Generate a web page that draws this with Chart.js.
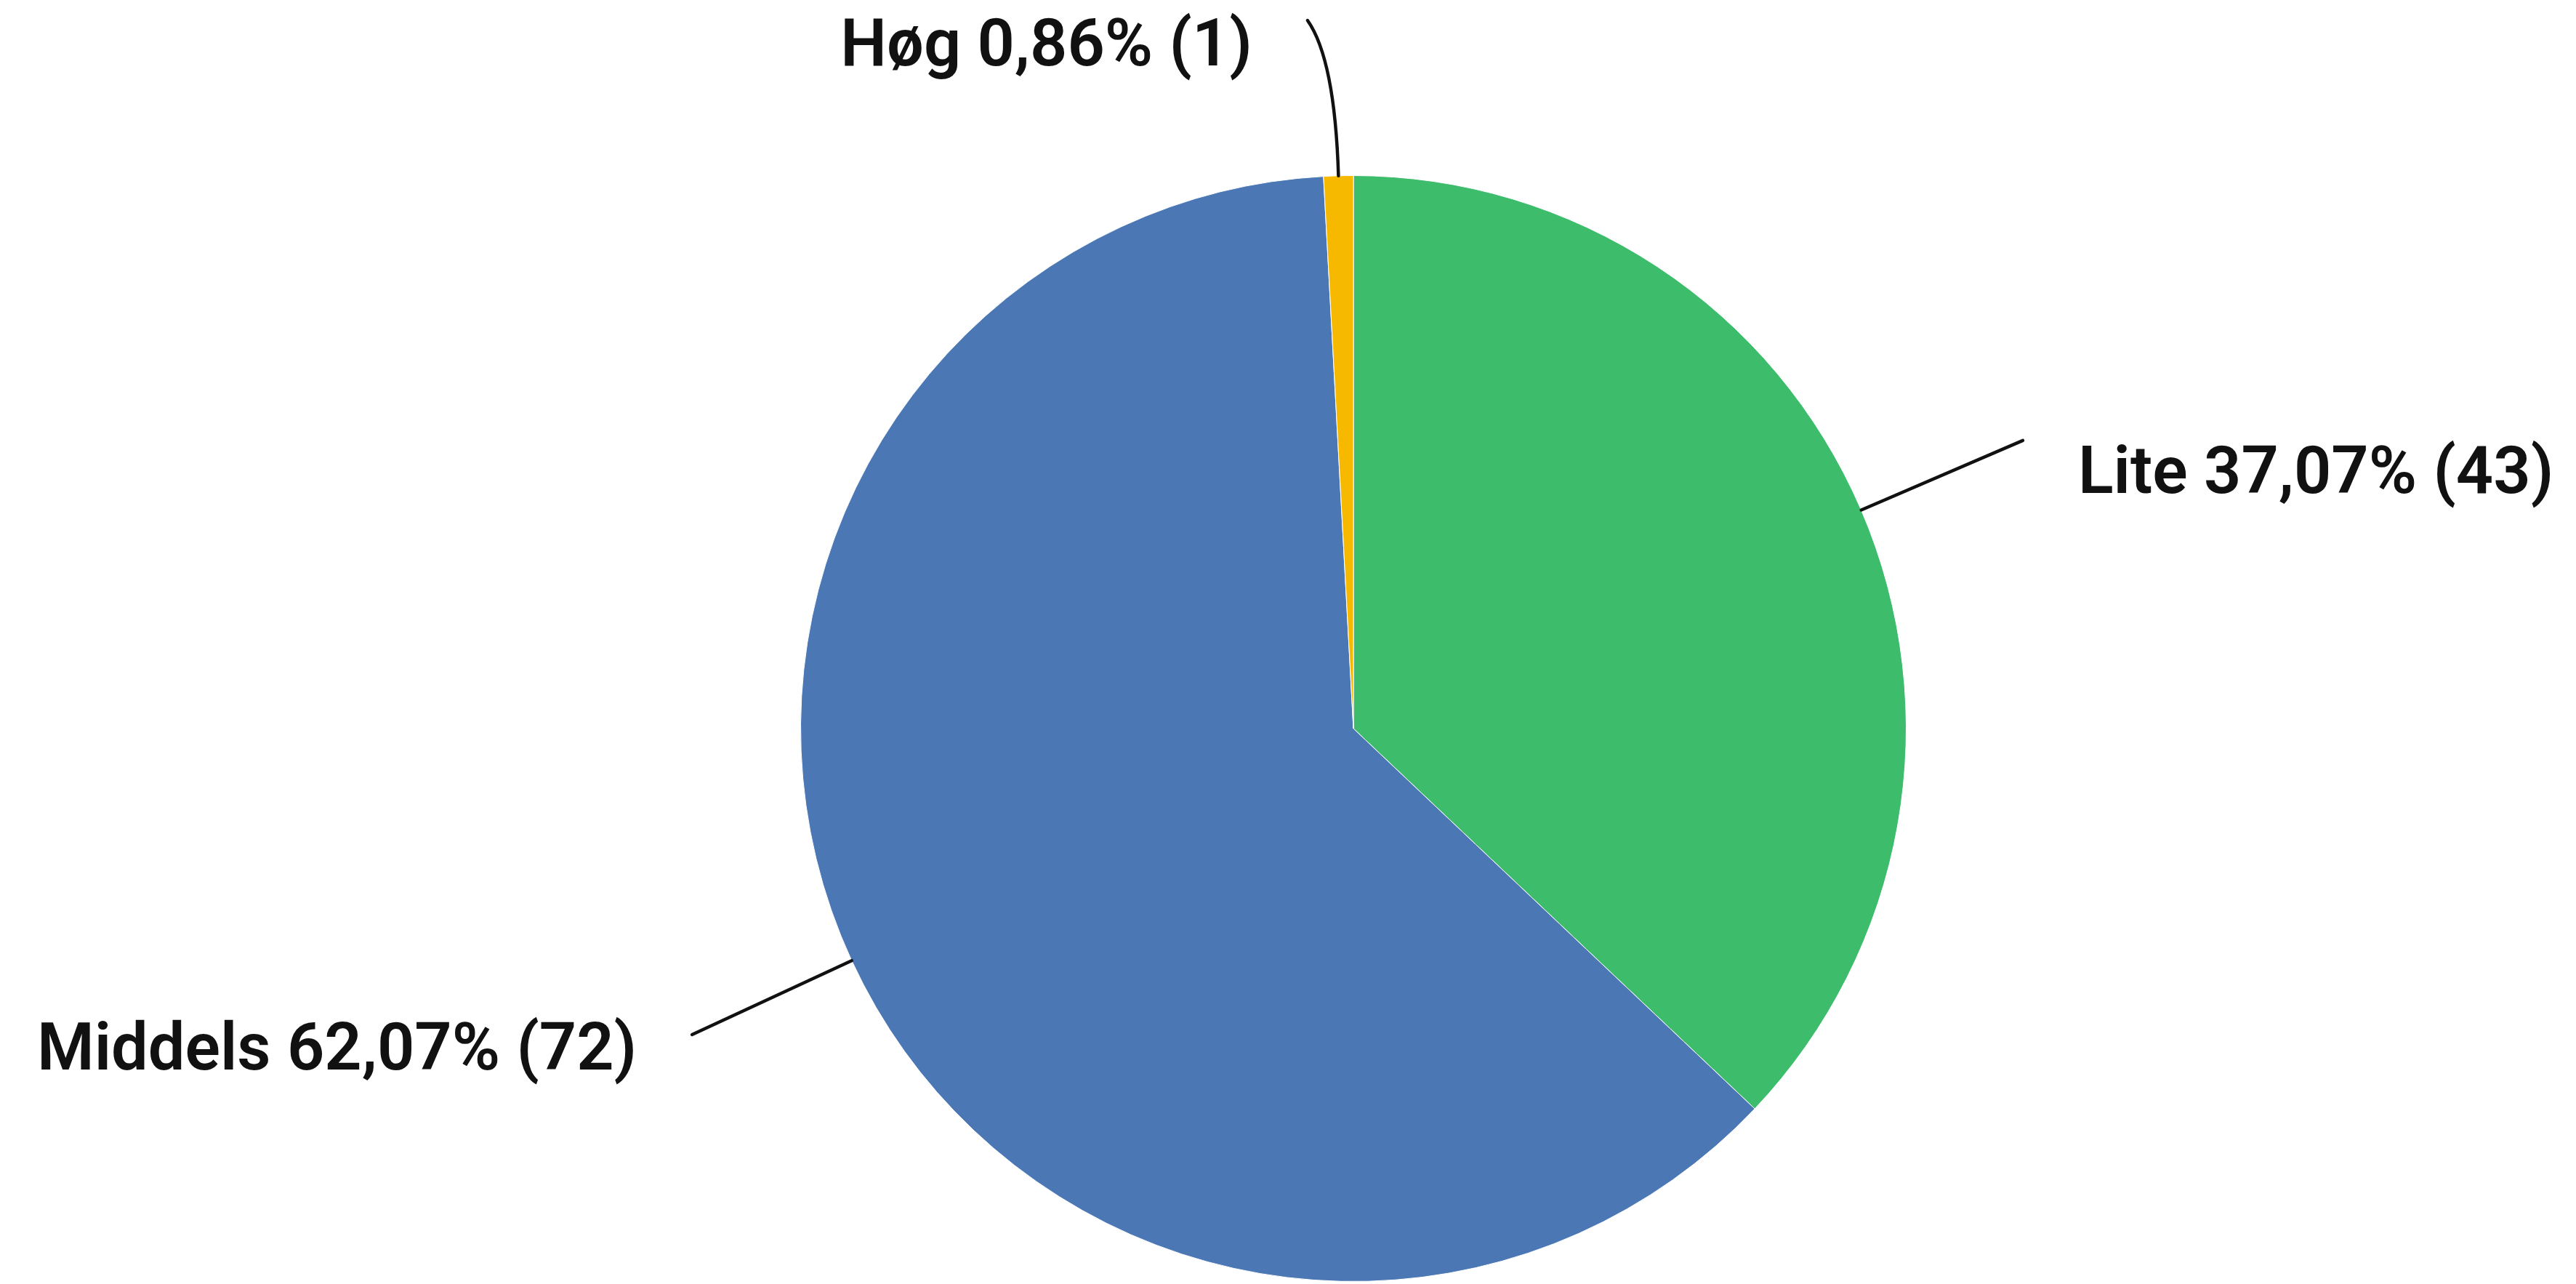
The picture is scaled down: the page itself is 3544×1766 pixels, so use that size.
<!DOCTYPE html>
<html lang="no">
<head>
<meta charset="UTF-8">
<title>Fordeling</title>
<script src="https://cdn.jsdelivr.net/npm/chart.js@4.4.1/dist/chart.umd.min.js"></script>
<style>
    html, body { margin: 0; padding: 0; background: #fff; overflow: hidden; }
    #grafica { display: block; }
</style>
</head>
<body>
<canvas id="grafica" width="3544" height="1766"></canvas>
<script>
//DATA
const categories = ['Lite', 'Middels', 'Høg'];
const counts = [43, 72, 1];
const colors = ['#3dbd6c', '#4b78b5', '#f6b900'];
//DATA
//LABEL STYLE
const labelFont = '600 90px Roboto';
const lineLength = 242;
const lineBend = { 'Høg': -36 }; // sideways pull of the line end, px
const labelDrop = { 'Lite': 72, 'Middels': 48, 'Høg': 62 }; // baseline below line end, px
const topLimit = 28;
const textGap = 76;
const graph = document.getElementById('grafica');
//LABEL STYLE

function formatPct(n, total) { // 37,07%
    return (n / total * 100).toFixed(2).replace('.', ',') + '%';
}

//PLUGIN
const leaderLabels = { // draws the label text and the curved leader line for every slice
    id: 'leaderLabels',
    afterDatasetsDraw(chart) {
        const ctx = chart.ctx;
        const meta = chart.getDatasetMeta(0);
        const total = counts.reduce((a, b) => a + b, 0);
        ctx.save();
        ctx.font = labelFont;
        ctx.fillStyle = '#111';
        ctx.strokeStyle = '#111';
        ctx.lineWidth = 4.5;
        ctx.lineCap = 'round';
        meta.data.forEach((arc, i) => {
            const p = arc.getProps(['x', 'y', 'startAngle', 'endAngle', 'outerRadius'], true);
            const mid = (p.startAngle + p.endAngle) / 2;
            const ux = Math.cos(mid);
            const uy = Math.sin(mid);
            const sx = p.x + ux * p.outerRadius;
            const sy = p.y + uy * p.outerRadius;
            const bend = lineBend[categories[i]] || 0;
            const ex = sx + ux * lineLength + bend;
            const ey = Math.max(sy + uy * lineLength, topLimit);
            const cx = sx + ux * lineLength * 0.75;
            const cy = sy + (ey - sy) * 0.75;
            ctx.beginPath();
            ctx.moveTo(sx, sy);
            ctx.quadraticCurveTo(cx, cy, ex, ey);
            ctx.stroke();

            const text = `${categories[i]} ${formatPct(counts[i], total)} (${counts[i]})`;
            const drop = labelDrop[categories[i]] || 60;
            ctx.textBaseline = 'alphabetic';
            if (ux >= 0) {
                ctx.textAlign = 'left';
                ctx.fillText(text, ex + textGap, ey + drop);
            } else {
                ctx.textAlign = 'right';
                ctx.fillText(text, ex - textGap, ey + drop);
            }
        });
        ctx.restore();
    }
};
//PLUGIN

//CHART
const chart = new Chart(graph, {
    type: 'pie',
    data: {
        labels: categories,
        datasets: [{
            data: counts,
            backgroundColor: colors,
            borderColor: '#ffffff',
            borderWidth: 1
        }]
    },
    options: {
        responsive: false,
        devicePixelRatio: 1,
        animation: false,
        layout: { padding: { top: 241, bottom: 3, left: 180, right: 0 } },
        plugins: {
            legend: { display: false },
            tooltip: { enabled: false }
        }
    },
    plugins: [leaderLabels]
});
//CHART
</script>
</body>
</html>
